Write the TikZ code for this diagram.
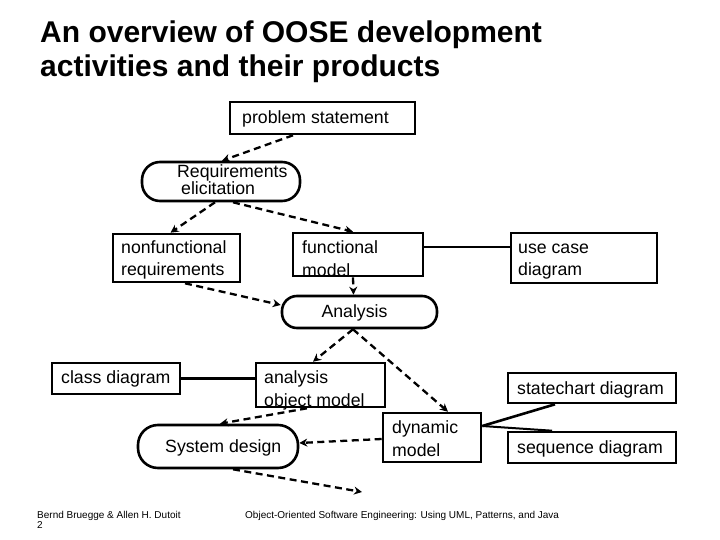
\documentclass[tikz,border=0pt]{standalone}
\usepackage{fontspec}
\setmainfont{Liberation Sans}
\usetikzlibrary{arrows.meta,calc}
\begin{document}
\begin{tikzpicture}[x=1pt,y=-1pt,
  box/.style={draw, line width=2.6pt, inner sep=0pt},
  rbox/.style={box, rounded corners=#1},
  txt/.style={inner sep=0pt, anchor=base west, font=\fontsize{17.7}{20}\selectfont},
  ttl/.style={inner sep=0pt, anchor=base west, font=\fontsize{30}{34}\selectfont\bfseries},
  foot/.style={inner sep=0pt, anchor=base west, font=\fontsize{10}{12}\selectfont},
  dasharrow/.style={line width=2.3pt, dash pattern=on 7pt off 4.5pt, -{Stealth[length=8pt,width=8pt]}},
  solidline/.style={line width=2.6pt}]
\useasboundingbox (0,0) rectangle (720,540);
\fill[white] (0,0) rectangle (720,540);

% title
\node[ttl] (title1) at (40,43) {An overview of OOSE development};
\node[ttl] (title2) at (40,77) {activities and their products};

% boxes
\node[box, minimum width=185pt, minimum height=32pt] (ps) at (322.5,118) {};
\node[rbox=18pt, minimum width=158pt, minimum height=39pt] (req) at (221,181.5) {};
\node[box, minimum width=127pt, minimum height=48pt] (nf) at (176.5,258) {};
\node[box, minimum width=130pt, minimum height=43pt] (fm) at (358,254.5) {};
\node[box, minimum width=146pt, minimum height=50pt] (uc) at (584,258) {};
\node[rbox=15pt, minimum width=155pt, minimum height=32pt] (an) at (359.5,312) {};
\node[box, minimum width=128pt, minimum height=31pt] (cd) at (116,378.5) {};
\node[box, minimum width=129pt, minimum height=44pt] (aom) at (320.5,385) {};
\node[rbox=20pt, minimum width=160pt, minimum height=43pt] (sd) at (218,446.5) {};
\node[box, minimum width=168pt, minimum height=30pt] (sc) at (592,388) {};
\node[box, minimum width=98pt, minimum height=49pt] (dm) at (432,437.5) {};
\node[box, minimum width=168pt, minimum height=31pt] (sq) at (592,447.5) {};

% texts
\node[txt] (tps) at (242,124) {problem statement};
\node[txt] (treq1) at (177,178) {Requirements};
\node[txt] (treq2) at (181,195) {elicitation};
\node[txt] (tnf1) at (121,253) {nonfunctional};
\node[txt] (tnf2) at (121,275) {requirements};
\node[txt] (tfm1) at (302,254) {functional};
\node[txt] (tfm2) at (302,276) {model};
\node[txt] (tuc1) at (518,254) {use case};
\node[txt] (tuc2) at (518,275) {diagram};
\node[txt, anchor=base] (tan) at (354.5,317) {Analysis};
\node[txt] (tcd) at (61,383) {class diagram};
\node[txt] (taom1) at (264,383) {analysis};
\node[txt] (taom2) at (264,406) {object model};
\node[txt] (tsd) at (165,452) {System design};
\node[txt] (tsc) at (517,394) {statechart diagram};
\node[txt] (tdm1) at (392,433) {dynamic};
\node[txt] (tdm2) at (392,456) {model};
\node[txt] (tsq) at (517,453) {sequence diagram};

% footer
\node[foot] (f1) at (37,518) {Bernd Bruegge \& Allen H. Dutoit};
\node[foot] (f2) at (37,528) {2};
\node[foot] (f3) at (245,518) {Object-Oriented Software Engineering: Using UML, Patterns, and Java};

% solid connectors
\draw[solidline] ([yshift=7.5pt]fm.east) -- ([yshift=7.5pt]fm.east -| uc.west);
\draw[solidline] (cd.east) -- (cd.east -| aom.west);
\draw[solidline] ([yshift=11.5pt]dm.east) -- ([xshift=-37pt]sc.south);
\draw[solidline, line width=2pt] ([yshift=11.5pt]dm.east) -- ([xshift=-40pt]sq.north);

% dashed connectors
\coordinate (out) at (362,492);
\draw[dasharrow] ([xshift=-29.5pt]ps.south) -- ([xshift=1pt]req.north);
\draw[dasharrow] ([xshift=-6pt]req.south) -- ([xshift=-6pt]nf.north);
\draw[dasharrow] ([xshift=12pt]req.south) -- ([xshift=-5pt]fm.north);
\draw[dasharrow] ([xshift=-5pt]fm.south) -- ([xshift=-6pt]an.north);
\draw[dasharrow] ([xshift=8.5pt]nf.south) -- ([yshift=7pt]an.west);
\draw[dasharrow] ([xshift=-6.5pt]an.south) -- ([xshift=-7.5pt]aom.north);
\draw[dasharrow] ([xshift=-6.5pt]an.south) -- ([xshift=16pt]dm.north);
\draw[dasharrow] ([xshift=-13.5pt]aom.south) -- ([xshift=2pt]sd.north);
\draw[dasharrow] ([yshift=-1.5pt]dm.west) -- ([yshift=3.5pt]sd.east);
\draw[dasharrow] ([xshift=15pt]sd.south) -- (out);
\end{tikzpicture}
\end{document}
